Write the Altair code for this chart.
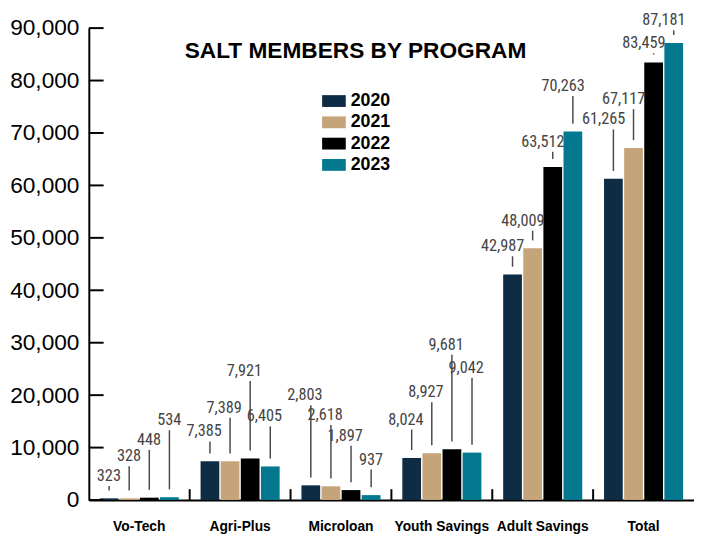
import altair as alt
import pandas as pd

categories = ["Vo-Tech", "Agri-Plus", "Microloan", "Youth Savings", "Adult Savings", "Total"]
years = ["2020", "2021", "2022", "2023"]
colors = ["#0e2d45", "#c4a478", "#000000", "#04788f"]

v2020 = [323, 7385, 2803, 8024, 42987, 61265]
v2021 = [328, 7389, 2618, 8927, 48009, 67117]
v2022 = [448, 7921, 1897, 9681, 63512, 83459]
v2023 = [534, 6405, 937, 9042, 70263, 87181]

# heights (in members) at which each value label sits
l2020 = [4550, 13060, 19960, 15340, 48370, 72560]
l2021 = [8300, 17580, 16200, 20550, 53250, 76430]
l2022 = [11430, 24590, 12220, 29570, 68290, 87090]
l2023 = [15190, 15940, 7710, 25190, 78950, 91470]

y_ticks = [0, 10000, 20000, 30000, 40000, 50000, 60000, 70000, 80000, 90000]

rows = []
for yr, vals, lev in zip(years, [v2020, v2021, v2022, v2023], [l2020, l2021, l2022, l2023]):
    for c, v, l in zip(categories, vals, lev):
        rows.append({"program": c, "year": yr, "value": v, "level": l})
df = pd.DataFrame(rows)
ticks_df = pd.DataFrame({"tick": y_ticks})
bounds_df = pd.DataFrame({"program": categories[1:]})

W = 614
H = 478.8

xaxis = alt.Axis(labelAngle=0, ticks=False, tickSize=0, labelPadding=20,
                 labelFont="Liberation Sans", labelFontSize=14, labelFontWeight="bold",
                 labelColor="black", domainColor="black", domainWidth=2, title=None)
yaxis = alt.Axis(values=y_ticks, labelExpr="format(datum.value, ',.0f')", ticks=False,
                 tickSize=0, grid=False,
                 labelPadding=10, labelFont="Liberation Sans", labelFontSize=23,
                 labelColor="black", domainColor="black", domainWidth=2, title=None)
xscale = alt.Scale(paddingInner=0, paddingOuter=0)
yscale = alt.Scale(domain=[0, 90000], nice=False)

xenc = alt.X("program:N", sort=categories, title=None, scale=xscale, axis=xaxis)
xoff = alt.XOffset("year:N", sort=years, scale=alt.Scale(paddingInner=0.0686, paddingOuter=0.542))


def yenc(field):
    return alt.Y(field, scale=yscale, title=None, axis=yaxis)


bars = alt.Chart(df).mark_bar().encode(
    x=xenc,
    xOffset=xoff,
    y=yenc("value:Q"),
    color=alt.Color("year:N", scale=alt.Scale(domain=years, range=colors),
                    legend=alt.Legend(orient="none", legendX=236.7, legendY=62, title=None,
                                      symbolType="M-1,-0.5H1V0.5H-1Z", symbolSize=576,
                                      symbolStrokeWidth=0, symbolOpacity=1,
                                      labelFont="Liberation Sans", labelFontSize=18,
                                      labelFontWeight="bold", labelColor="black",
                                      labelOffset=5, rowPadding=0.6, padding=0)),
)

leaders = alt.Chart(df).mark_rule(color="#4a4a4a", strokeWidth=1.5, yOffset=-8, y2Offset=10).encode(
    x=xenc,
    xOffset=xoff,
    y=yenc("value:Q"),
    y2="level:Q",
)

labels = alt.Chart(df).mark_text(align="right", baseline="middle", dx=12,
                                 font="Liberation Sans Narrow, Roboto Condensed, Liberation Sans",
                                 fontSize=16.5, fontWeight="normal", color="#444444").encode(
    x=xenc,
    xOffset=xoff,
    y=yenc("level:Q"),
    text=alt.Text("value:Q", format=","),
)

yticks = alt.Chart(ticks_df).mark_rule(color="black", strokeWidth=2).encode(
    x=alt.value(0), x2=alt.value(15),
    y=yenc("tick:Q"),
)

xticks = alt.Chart(bounds_df).mark_rule(color="black", strokeWidth=2).encode(
    x=alt.X("program:N", sort=categories, bandPosition=0, title=None, scale=xscale, axis=xaxis),
    y=alt.value(H - 11), y2=alt.value(H),
)

chart = alt.layer(bars, leaders, labels, yticks, xticks).properties(
    width=W, height=H,
    autosize=alt.AutoSizeParams(type="none"),
    padding={"left": 82, "top": 16.5, "right": 0, "bottom": 40},
    title=alt.Title("SALT MEMBERS BY PROGRAM", font="Liberation Sans", fontSize=23,
                    fontWeight="bold", color="black", anchor="start", frame="group",
                    dx=97.3, dy=51, offset=0),
).configure_view(stroke=None)

chart.save("out.html", embed_options={"renderer": "svg", "actions": False})
